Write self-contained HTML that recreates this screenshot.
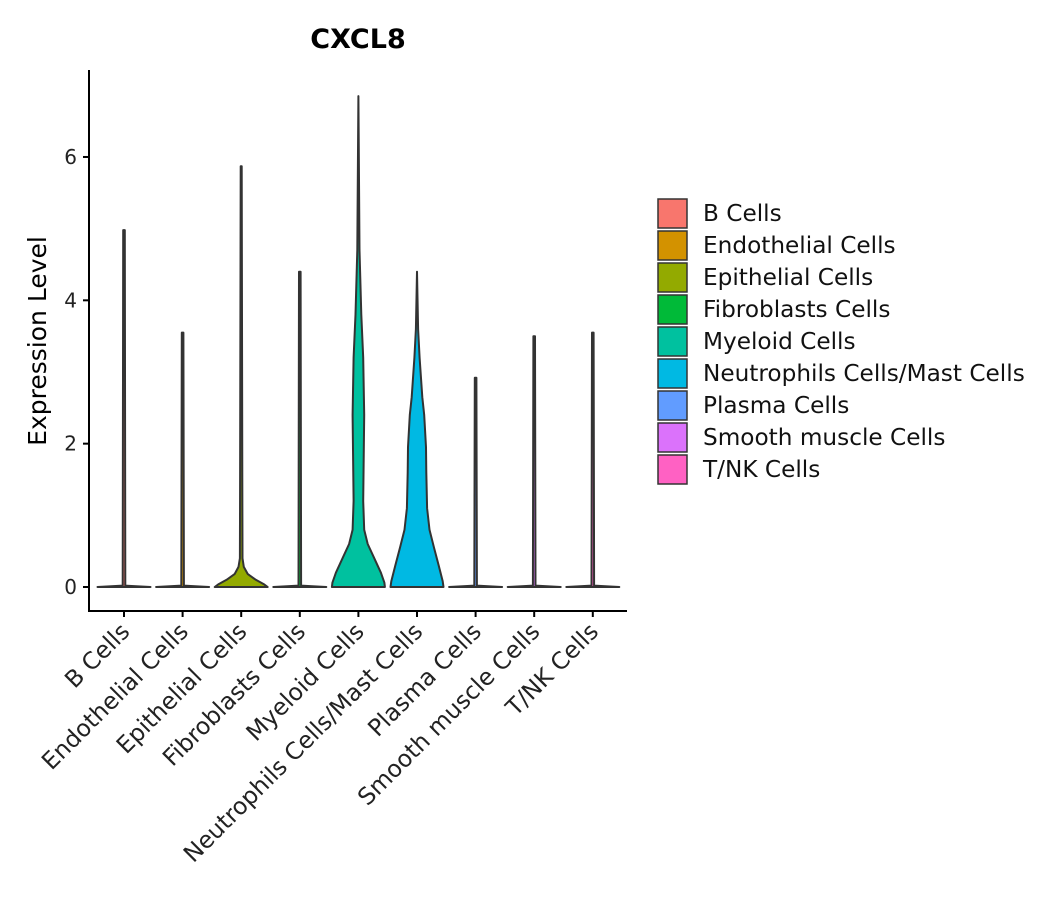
<!DOCTYPE html>
<html><head><meta charset="utf-8"><style>
body{margin:0;background:#fff}
svg{font-family:"DejaVu Sans","Liberation Sans",sans-serif}
</style></head><body>
<svg id="c" width="1057" height="900"></svg>
<script>
const categories=["B Cells","Endothelial Cells","Epithelial Cells","Fibroblasts Cells","Myeloid Cells","Neutrophils Cells/Mast Cells","Plasma Cells","Smooth muscle Cells","T/NK Cells"];
const colors=["#F8766D","#D39200","#93AA00","#00BA38","#00C19F","#00B9E3","#619CFF","#DB72FB","#FF61C3"];
const maxVals=[4.98,3.55,5.87,4.4,6.85,4.4,2.92,3.5,3.55];
// density profiles: [expression, half-width fraction]
const densB=[[0,1],[0.02,0.05],[4.98,0.03]];
const densEndo=[[0,1],[0.02,0.05],[3.55,0.03]];
const densEpi=[[0,1],[0.04,0.85],[0.1,0.55],[0.18,0.25],[0.28,0.1],[0.4,0.05],[1.5,0.04],[5.87,0.02]];
const densFib=[[0,1],[0.02,0.05],[4.4,0.03]];
const densMye=[[0,1],[0.06,0.98],[0.2,0.85],[0.4,0.6],[0.6,0.35],[0.8,0.22],[1.2,0.18],[2.4,0.22],[3.2,0.18],[3.8,0.11],[4.7,0.04],[6.85,0]];
const densNeu=[[0,1],[0.08,0.97],[0.3,0.82],[0.55,0.64],[0.8,0.47],[1.1,0.38],[1.6,0.35],[1.95,0.34],[2.4,0.27],[2.65,0.2],[3.2,0.1],[3.6,0.04],[4.4,0]];
const densPla=[[0,1],[0.02,0.05],[2.92,0.03]];
const densSmo=[[0,1],[0.02,0.05],[3.5,0.03]];
const densTNK=[[0,1],[0.02,0.05],[3.55,0.03]];
const dens=[densB,densEndo,densEpi,densFib,densMye,densNeu,densPla,densSmo,densTNK];
const yTicks=[0,2,4,6];
const NS="http://www.w3.org/2000/svg";
const svg=document.getElementById('c');
function el(t,a,p){const e=document.createElementNS(NS,t);for(const k in a)e.setAttribute(k,a[k]);(p||svg).appendChild(e);return e;}
const x=i=>124+i*58.6;
const y=v=>587-v*71.67;
const HW=26.5;
let t=el('text',{x:358,y:48,'text-anchor':'middle','font-size':27,'font-weight':'bold'});t.textContent="CXCL8";

t=el('text',{x:0,y:0,transform:'translate(46,341) rotate(-90)','text-anchor':'middle','font-size':25});t.textContent="Expression Level";

categories.forEach((c,i)=>{
  const d=dens[i];const cx=x(i);
  let right=d.map(p=>[cx+p[1]*HW,y(p[0])]);
  let left=d.slice().reverse().map(p=>[cx-p[1]*HW,y(p[0])]);
  const pts=right.concat(left);
  let s="M"+pts.map(p=>p[0].toFixed(1)+","+p[1].toFixed(1)).join("L")+"Z";
  const v=el('path',{d:s,fill:colors[i],stroke:'#333',"stroke-width":2,"stroke-linejoin":"round"});
  
  
});
const ax=el('path',{d:"M89,70V611H627",fill:'none',stroke:'#000','stroke-width':2});

yTicks.forEach(v=>{
  el('line',{x1:83,x2:89,y1:y(v),y2:y(v),stroke:'#000','stroke-width':2});
  const tt=el('text',{x:77,y:y(v)+7,'text-anchor':'end','font-size':20,fill:'#222'});tt.textContent=v;
  
});
categories.forEach((c,i)=>{
  el('line',{x1:x(i),x2:x(i),y1:611,y2:617,stroke:'#000','stroke-width':2});
  const tt=el('text',{x:0,y:0,transform:`translate(${x(i)+7},${633}) rotate(-45)`,'text-anchor':'end','font-size':23.5,fill:'#222'});tt.textContent=c;
  
});
categories.forEach((c,i)=>{
  const g=el('g',{});
  
  
  el('rect',{x:658,y:199+i*32,width:29,height:29,fill:colors[i],stroke:'#333','stroke-width':1.5},g);
  const tt=el('text',{x:703,y:221+i*32,'font-size':23.2,fill:'#111'},g);tt.textContent=c;
});
</script>
</body></html>
